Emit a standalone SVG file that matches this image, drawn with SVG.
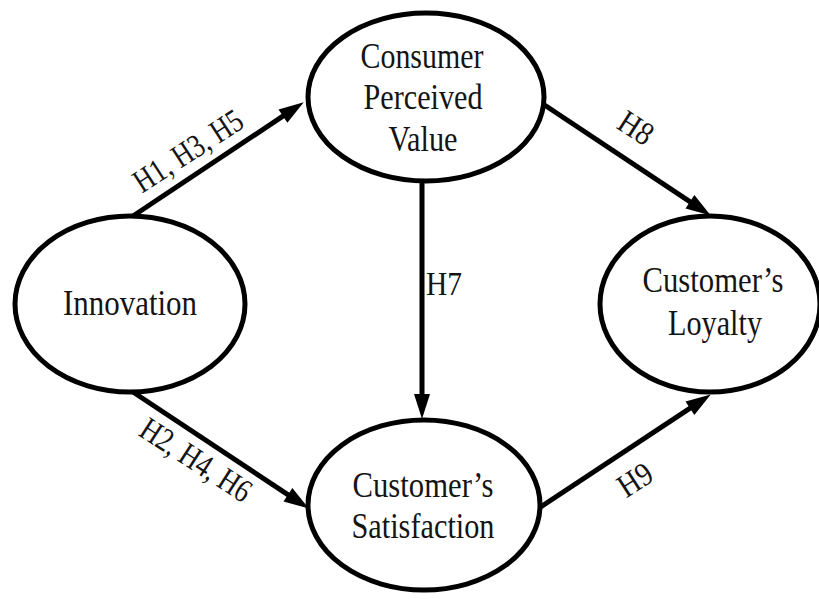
<svg xmlns="http://www.w3.org/2000/svg" width="819" height="599" viewBox="0 0 819 599">
<style>
.node ellipse{fill:#fff;stroke:#000;stroke-width:5}
text{font-family:"Liberation Serif","Times New Roman",serif;font-size:35px;fill:#141414;text-anchor:middle}
.lbl{font-size:33px}
.conn line{stroke:#000;stroke-width:5;marker-end:url(#ah)}
</style>
<defs>
<marker id="ah" markerUnits="userSpaceOnUse" markerWidth="26" markerHeight="18" refX="8" refY="8" orient="auto" overflow="visible">
<path d="M0,0 L25,8 L0,16 Z" fill="#000"/>
</marker>
</defs>
<rect width="819" height="599" fill="#fff"/>
<g id="connectors" class="conn">
<line x1="133" y1="216" x2="289.6" y2="111.7"/>
<line x1="133" y1="392" x2="294.6" y2="499.2"/>
<line x1="540" y1="102" x2="696.6" y2="206.2"/>
<line x1="539" y1="508" x2="696.6" y2="403.8"/>
<line x1="422" y1="181" x2="422" y2="402"/>
</g>
<g id="labels">
<text class="lbl" x="194" y="160" textLength="124" lengthAdjust="spacingAndGlyphs" transform="rotate(-33 194 160)">H1, H3, H5</text>
<text class="lbl" x="190" y="469" textLength="126" lengthAdjust="spacingAndGlyphs" transform="rotate(33 190 469)">H2, H4, H6</text>
<text class="lbl" x="630" y="137" textLength="35" lengthAdjust="spacingAndGlyphs" transform="rotate(33 630 137)">H8</text>
<text class="lbl" x="641" y="489" textLength="35" lengthAdjust="spacingAndGlyphs" transform="rotate(-33 641 489)">H9</text>
<text class="lbl" x="444" y="295" textLength="36" lengthAdjust="spacingAndGlyphs">H7</text>
</g>
<g id="cpv" class="node">
<ellipse cx="426" cy="97" rx="118" ry="84"/>
<text x="422" y="68" textLength="123" lengthAdjust="spacingAndGlyphs">Consumer</text>
<text x="423" y="109" textLength="119" lengthAdjust="spacingAndGlyphs">Perceived</text>
<text x="423" y="151" textLength="69" lengthAdjust="spacingAndGlyphs">Value</text>
</g>
<g id="innovation" class="node">
<ellipse cx="130" cy="304" rx="115" ry="88"/>
<text x="130" y="315" textLength="134" lengthAdjust="spacingAndGlyphs">Innovation</text>
</g>
<g id="loyalty" class="node">
<ellipse cx="710" cy="304" rx="110" ry="88"/>
<text x="713" y="292" textLength="141" lengthAdjust="spacingAndGlyphs">Customer’s</text>
<text x="715" y="335" textLength="94" lengthAdjust="spacingAndGlyphs">Loyalty</text>
</g>
<g id="satisfaction" class="node">
<ellipse cx="424" cy="505" rx="116" ry="85"/>
<text x="423" y="497" textLength="141" lengthAdjust="spacingAndGlyphs">Customer’s</text>
<text x="423" y="538" textLength="143" lengthAdjust="spacingAndGlyphs">Satisfaction</text>
</g>
</svg>
